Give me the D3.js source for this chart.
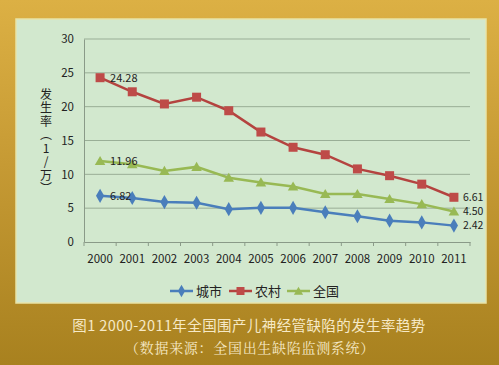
<!DOCTYPE html>
<html><head><meta charset="utf-8">
<script src="https://cdn.jsdelivr.net/npm/d3@7/dist/d3.min.js"></script>
<style>body{margin:0;padding:0;overflow:hidden;}svg{display:block;}</style>
</head><body>
<script>
const years = ["2000","2001","2002","2003","2004","2005","2006","2007","2008","2009","2010","2011"];
const city = [6.82,6.5,5.9,5.8,4.85,5.05,5.05,4.4,3.8,3.15,2.9,2.42];
const rural = [24.28,22.2,20.4,21.4,19.4,16.25,14.0,12.9,10.8,9.8,8.55,6.61];
const national = [11.96,11.5,10.5,11.1,9.5,8.8,8.2,7.1,7.1,6.35,5.6,4.50];
const yTicks = [0,5,10,15,20,25,30];
const seriesNames = ["城市","农村","全国"];
const labelsFirst = ["6.82","24.28","11.96"];
const labelsLast = ["2.42","6.61","4.50"];
const title = "图1  2000-2011年全国围产儿神经管缺陷的发生率趋势";
const subtitle = "（数据来源：全国出生缺陷监测系统）";
const yTitle = "发生率（1/万）";

const W = 499, H = 365;
const svg = d3.select("body").append("svg").attr("width", W).attr("height", H);
const defs = svg.append("defs");
const bg = defs.append("linearGradient").attr("id","bg").attr("x1",0).attr("y1",0).attr("x2",0).attr("y2",1);
bg.append("stop").attr("offset","0%").attr("stop-color","#DCB044");
bg.append("stop").attr("offset","45%").attr("stop-color","#C69A34");
bg.append("stop").attr("offset","100%").attr("stop-color","#A8811F");
svg.append("rect").attr("width",W).attr("height",H).attr("fill","url(#bg)");

// panel
svg.append("rect").attr("x",16).attr("y",19).attr("width",470).attr("height",284)
  .attr("fill","#D2E8CE").attr("stroke","#E8E4A8").attr("stroke-width",1.5);

const font = "'Noto Sans CJK SC', 'Noto Sans', sans-serif";
const x = d3.scaleBand().domain(years).range([84,470]);
const y = d3.scaleLinear().domain([0,30]).range([242,39]);

// gridlines
svg.append("g").selectAll("line").data(yTicks.filter(d=>d>0)).join("line")
  .attr("x1",84).attr("x2",470).attr("y1",d=>y(d)).attr("y2",d=>y(d))
  .attr("stroke","#99AE96").attr("stroke-width",1);

// y axis
const ya = svg.append("g").attr("transform","translate(84,0)")
  .call(d3.axisLeft(y).tickValues(yTicks).tickSize(0).tickPadding(10));
ya.select(".domain").attr("stroke","#8A9A88");
ya.selectAll("text").attr("font-family",font).attr("font-size",11.5).attr("fill","#222");

// x axis
const xa = svg.append("g").attr("transform","translate(0,242)")
  .call(d3.axisBottom(x).tickSize(0).tickPadding(13));
xa.select(".domain").attr("stroke","#8A9A88");
xa.selectAll("text").attr("font-family",font).attr("font-size",11.5).attr("fill","#222");
// category boundary ticks
svg.append("g").selectAll("line").data(years.concat(["end"])).join("line")
  .attr("x1",(d,i)=>84+i*x.step()).attr("x2",(d,i)=>84+i*x.step())
  .attr("y1",242).attr("y2",246).attr("stroke","#8A9A88");

// y title vertical
svg.append("text").attr("x",46).attr("y",88)
  .attr("font-family",font).attr("font-size",12).attr("fill","#222")
  .style("writing-mode","vertical-rl").style("text-orientation","upright")
  .attr("letter-spacing",1.5)
  .text(yTitle);

const data = [city, rural, national];
const colors = ["#4A7EBB","#BE4B48","#98B954"];
const lineColors = ["#4A7EBB","#B4433F","#98B954"];
const line = d3.line().x((d,i)=>x(years[i])+x.bandwidth()/2).y(d=>y(d));

function marker(g, type, color, cx, cy, s){
  if(type===0){
    g.append("path").attr("d",d3.symbol(d3.symbolDiamond, s*s*0.9)())
      .attr("transform",`translate(${cx},${cy})`).attr("fill",color);
  } else if(type===1){
    g.append("rect").attr("x",cx-s/2).attr("y",cy-s/2).attr("width",s).attr("height",s).attr("fill",color);
  } else {
    g.append("path").attr("d",d3.symbol(d3.symbolTriangle, s*s*0.75)())
      .attr("transform",`translate(${cx},${cy+1})`).attr("fill",color);
  }
}

data.forEach((vals,k)=>{
  const g = svg.append("g");
  g.append("path").datum(vals).attr("d",line).attr("fill","none")
    .attr("stroke",lineColors[k]).attr("stroke-width",2.5);
  vals.forEach((v,i)=>marker(g,k,colors[k],x(years[i])+x.bandwidth()/2,y(v),k===1?9:8));
  g.append("text").attr("x",x(years[0])+x.bandwidth()/2+10).attr("y",y(vals[0])+4)
    .attr("font-family",font).attr("font-size",11).attr("fill","#222").text(labelsFirst[k]);
  g.append("text").attr("x",x(years[11])+x.bandwidth()/2+9).attr("y",y(vals[11])+3.5)
    .attr("font-family",font).attr("font-size",10.5).attr("fill","#222").text(labelsLast[k]);
});

// legend
const legX = [170,229,287];
seriesNames.forEach((n,k)=>{
  const g = svg.append("g");
  g.append("line").attr("x1",legX[k]).attr("x2",legX[k]+23).attr("y1",291).attr("y2",291)
    .attr("stroke",lineColors[k]).attr("stroke-width",2.5);
  marker(g,k,colors[k],legX[k]+11.5,291,k===1?8:7);
  g.append("text").attr("x",legX[k]+26).attr("y",296).attr("font-family",font).attr("font-size",13)
    .attr("fill","#222").text(n);
});

svg.append("text").attr("x",249).attr("y",331).attr("text-anchor","middle")
  .attr("font-family",font).attr("font-size",14.5).attr("letter-spacing",0.4).attr("fill","#F6E9C6").text(title);
svg.append("text").attr("x",250).attr("y",353).attr("text-anchor","middle")
  .attr("font-family","'Noto Serif CJK SC','Noto Sans CJK SC', serif").attr("font-size",14).attr("letter-spacing",0.7).attr("fill","#F6E9C6").text(subtitle);
</script>
</body></html>
